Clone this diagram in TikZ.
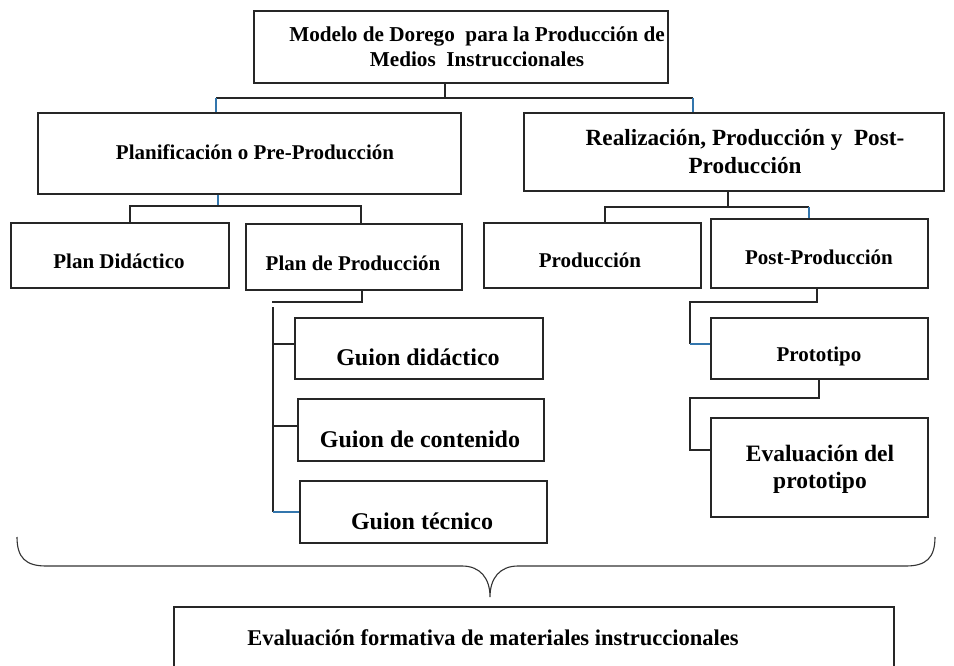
\documentclass[tikz,border=0pt]{standalone}
\usepackage{fontspec}
\setmainfont{Liberation Serif}
\begin{document}
\begin{tikzpicture}[x=1pt,y=-1pt,
  box/.style={draw=black!85,line width=1.6pt,anchor=north west,inner sep=0pt,fill=white},
  txt/.style={font=\bfseries,align=center,inner sep=0pt,text=black},
  conn/.style={draw=black!85,line width=1.5pt},
  bconn/.style={draw=blue!45!cyan!60!black!80,line width=1.5pt},
  brace/.style={draw=black!80,line width=1.1pt}]
\useasboundingbox (0,0) rectangle (954,666);
% boxes
\node[box,minimum width=414pt,minimum height=72pt] (top) at (253,10) {};
\node[box,minimum width=423pt,minimum height=81pt] (plan) at (37,112) {};
\node[box,minimum width=420pt,minimum height=78pt] (real) at (523,112) {};
\node[box,minimum width=218pt,minimum height=65pt] (pd) at (10,222) {};
\node[box,minimum width=216pt,minimum height=66pt] (pp) at (245,223) {};
\node[box,minimum width=217pt,minimum height=65pt] (prod) at (483,222) {};
\node[box,minimum width=217pt,minimum height=69pt] (post) at (710,218) {};
\node[box,minimum width=248pt,minimum height=61pt] (gd) at (294,317) {};
\node[box,minimum width=246pt,minimum height=62pt] (gc) at (297,398) {};
\node[box,minimum width=247pt,minimum height=62pt] (gt) at (299,480) {};
\node[box,minimum width=217pt,minimum height=61pt] (proto) at (710,317) {};
\node[box,minimum width=217pt,minimum height=99pt] (eval) at (710,417) {};
\node[box,minimum width=720pt,minimum height=80pt] (fin) at (173,606) {};
% texts
\node[txt,font=\bfseries\fontsize{21.2}{25}\selectfont] (top-t) at (477,47) {Modelo de Dorego\ \ para la Producción de\\Medios\ \ Instruccionales};
\node[txt,font=\bfseries\fontsize{21}{25}\selectfont] (plan-t) at (255,152) {Planificación o Pre-Producción};
\node[txt,font=\bfseries\fontsize{23.2}{28}\selectfont] (real-t) at (745,152) {Realización, Producción y\ \ Post-\\Producción};
\node[txt,font=\bfseries\fontsize{21}{25}\selectfont] (pd-t) at (119,261) {Plan Didáctico};
\node[txt,font=\bfseries\fontsize{21}{25}\selectfont] (pp-t) at (353,263) {Plan de Producción};
\node[txt,font=\bfseries\fontsize{21}{25}\selectfont] (prod-t) at (590,260) {Producción};
\node[txt,font=\bfseries\fontsize{21}{25}\selectfont] (post-t) at (819,257) {Post-Producción};
\node[txt,font=\bfseries\fontsize{24}{28}\selectfont] (gd-t) at (418,357) {Guion didáctico};
\node[txt,font=\bfseries\fontsize{24}{28}\selectfont] (gc-t) at (420,439) {Guion de contenido};
\node[txt,font=\bfseries\fontsize{24}{28}\selectfont] (gt-t) at (422,521) {Guion técnico};
\node[txt,font=\bfseries\fontsize{21}{25}\selectfont] (proto-t) at (819,356) {Prototipo};
\node[txt,font=\bfseries\fontsize{23.5}{27}\selectfont] (eval-t) at (820,469) {Evaluación del\\prototipo};
\node[txt,font=\bfseries\fontsize{22.5}{26}\selectfont] (fin-t) at (493,638) {Evaluación formativa de materiales instruccionales};
% junction coordinates
\coordinate (j1) at (445,98);
\coordinate (j1l) at (216,98);
\coordinate (j1r) at (693,98);
\coordinate (j2) at (218,206);
\coordinate (j2l) at (130,206);
\coordinate (j2r) at (361,206);
\coordinate (j3) at (728,207);
\coordinate (j3l) at (605,207);
\coordinate (j3r) at (809,207);
\coordinate (j4) at (362,302);
\coordinate (j4l) at (272,302);
\coordinate (v4t) at (273,307);
\coordinate (v4b) at (273,512);
\coordinate (j5) at (817,302);
\coordinate (j5l) at (690,302);
\coordinate (j5b) at (690,344);
\coordinate (j6) at (819,398);
\coordinate (j6l) at (690,398);
\coordinate (j6b) at (690,450);
% connectors
\draw[conn] (j1 |- top.south) -- (j1);
\draw[conn] (j1l) -- (j1r);
\draw[bconn] (j1l) -- (j1l |- plan.north);
\draw[bconn] (j1r) -- (j1r |- real.north);
\draw[bconn] (j2 |- plan.south) -- (j2);
\draw[conn] (j2l |- pd.north) -- (j2l) -- (j2r) -- (j2r |- pp.north);
\draw[conn] (j3 |- real.south) -- (j3);
\draw[conn] (j3l |- prod.north) -- (j3l) -- (j3r);
\draw[bconn] (j3r) -- (j3r |- post.north);
\draw[conn] (j4 |- pp.south) -- (j4) -- (j4l);
\draw[conn] (v4t) -- (v4b);
\draw[conn] (v4t |- 0,344) -- (gd.west |- 0,344);
\draw[conn] (v4t |- 0,426) -- (gc.west |- 0,426);
\draw[bconn] (v4b) -- (gt.west |- v4b);
\draw[conn] (j5 |- post.south) -- (j5) -- (j5l) -- (j5b);
\draw[bconn] (j5b) -- (proto.west |- j5b);
\draw[conn] (j6 |- proto.south) -- (j6) -- (j6l) -- (j6b) -- (eval.west |- j6b);
% brace
\coordinate (bl) at (17,537);
\coordinate (br) at (935,537);
\coordinate (btip) at (490,597);
\draw[brace] (bl) .. controls (17,558) and (26,566) .. (46,566) -- (462,566)
  .. controls (480,566) and (490,578) .. (btip)
  .. controls (490,578) and (500,566) .. (518,566) -- (906,566)
  .. controls (926,566) and (935,558) .. (br);
\end{tikzpicture}
\end{document}
